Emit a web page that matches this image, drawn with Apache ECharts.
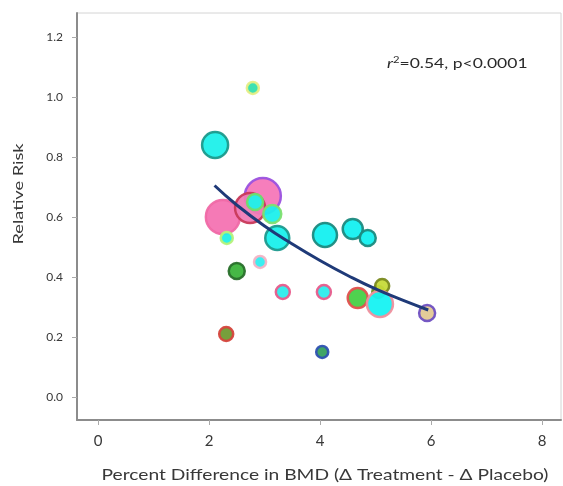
<!DOCTYPE html>
<html>
<head>
<meta charset="utf-8">
<script src="https://cdn.jsdelivr.net/npm/echarts@6/dist/echarts.min.js"></script>
<style>
  html, body { margin: 0; padding: 0; background: #fff; }
  #chart { width: 563px; height: 486px; }
</style>
</head>
<body>
<div id="chart"></div>
<script>
// 数据: 每个研究的 BMD 差值 / 相对风险 / 权重
const bmdDiff = [2.25, 2.97, 2.74, 2.11, 2.79, 2.83, 3.14, 3.23, 2.32, 2.50, 2.92, 3.33, 4.07, 2.31, 4.04, 4.09, 4.59, 4.86, 4.68, 5.05, 5.12, 5.08, 5.93]
const relRisk = [0.60, 0.67, 0.63, 0.84, 1.03, 0.65, 0.61, 0.53, 0.53, 0.42, 0.45, 0.35, 0.35, 0.21, 0.15, 0.54, 0.56, 0.53, 0.33, 0.35, 0.37, 0.31, 0.28]
const studyWeight = [8.5, 9, 7.5, 6.5, 3, 4, 4.5, 6, 3, 4, 3, 3.5, 3.5, 3.5, 3, 6, 5, 4, 5, 3, 3.5, 6.5, 4]

// 拟合曲线
const fitX = [2.1, 2.5, 3.0, 3.5, 4.0, 4.5, 5.0, 5.5, 5.95]
const fitY = [0.705, 0.64, 0.57, 0.51, 0.455, 0.405, 0.36, 0.322, 0.29]

const xTicks = [0, 2, 4, 6, 8]
const yTicks = [0, 0.2, 0.4, 0.6, 0.8, 1.0, 1.2]

// 样式: 填充色 / 边框色
const fills = ['#f473b2', '#f577b8', '#ef7cb6', '#1ef0ea', '#33dfae', '#1cf2ea', '#1cf0ec', '#1af0ec', '#20f0e8', '#3cb43c', '#30eef0', '#2cecec', '#2cecec', '#6f9a32', '#36a05e', '#14f0f0', '#14f0f0', '#14f0f0', '#46d046', '#8cc432', '#c6da3a', '#16f2f2', '#e2c894']
const borders = ['#f06aa6', '#9b52df', '#c83a5a', '#1c9a8c', '#e6ee86', '#6ede6a', '#7ee070', '#1e9a8e', '#b6f27a', '#2a702c', '#f4b4c6', '#e85c8c', '#e85c8c', '#d6463e', '#2f52b2', '#1c8a80', '#1c8a80', '#1c8a80', '#e2504e', '#6e8a22', '#7a8a20', '#f0909e', '#6f50c2']

const font = 'Lato, "Open Sans", sans-serif'
const textColor = '#383838'

const myChart = echarts.init(document.querySelector('#chart'))

const points = bmdDiff.map((x, i) => ({
  value: [x, relRisk[i], studyWeight[i]],
  itemStyle: { color: fills[i], borderColor: borders[i] }
}))

const option = {
  animation: false,
  grid: {
    left: 77, right: 2, top: 13, bottom: 66,
    show: true, borderColor: '#d4d4d4', borderWidth: 1
  },
  xAxis: {
    type: 'value',
    min: -0.378, max: 8.342,
    splitLine: { show: false },
    axisLine: { onZero: false, lineStyle: { color: '#8c8c8c', width: 2 } },
    axisTick: { show: true, length: 5, customValues: xTicks, lineStyle: { color: '#aaa' } },
    axisLabel: { customValues: xTicks, margin: 14, color: textColor, fontSize: 15, fontFamily: font }
  },
  yAxis: {
    type: 'value',
    min: -0.0767, max: 1.28,
    splitLine: { show: false },
    axisLine: { onZero: false, lineStyle: { color: '#8c8c8c', width: 2 } },
    axisTick: { show: true, length: 5, customValues: yTicks, lineStyle: { color: '#aaa' } },
    axisLabel: {
      customValues: yTicks, margin: 14, color: textColor, fontSize: 12, fontFamily: font,
      formatter: v => v.toFixed(1)
    }
  },
  graphic: [
    {
      // y轴标题
      type: 'text', x: 18, y: 194, rotation: Math.PI / 2, scaleX: 1.3,
      style: {
        text: 'Relative Risk', fill: textColor, fontSize: 14, fontFamily: font,
        align: 'center', verticalAlign: 'middle'
      }
    },
    {
      // x轴标题
      type: 'text', x: 325, y: 475, scaleX: 1.2,
      style: {
        text: 'Percent Difference in BMD (Δ Treatment - Δ Placebo)', fill: textColor,
        fontSize: 16, fontFamily: font, align: 'center', verticalAlign: 'middle'
      }
    },
    {
      // 拟合结果
      type: 'text', x: 387, y: 63, scaleX: 1.25,
      style: {
        text: '{i|r}{s|2}{t|=0.54, p<0.0001}',
        verticalAlign: 'middle',
        rich: {
          i: { fontStyle: 'italic', fontSize: 14, fill: '#2a2a2a', fontFamily: font },
          s: { fontSize: 9, fill: '#2a2a2a', fontFamily: font, verticalAlign: 'top', padding: [0, 0, 6, 0] },
          t: { fontSize: 14, fill: '#2a2a2a', fontFamily: font }
        }
      }
    }
  ],
  series: [
    {
      type: 'scatter',
      data: points,
      symbolSize: d => d[2] * 4,
      itemStyle: { borderWidth: 2.5, opacity: 0.95 },
      z: 2
    },
    {
      type: 'line',
      data: fitX.map((x, i) => [x, fitY[i]]),
      smooth: true,
      showSymbol: false,
      lineStyle: { color: '#1f3a78', width: 3 },
      z: 3
    }
  ]
}

myChart.setOption(option)
</script>
</body>
</html>
